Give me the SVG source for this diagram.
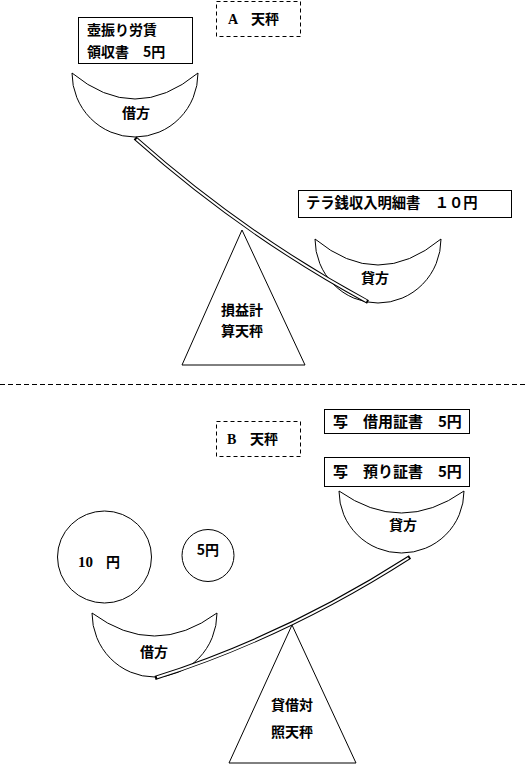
<svg xmlns="http://www.w3.org/2000/svg" width="529" height="768" viewBox="0 0 529 768">
<style>
.t{font-family:"Noto Sans CJK JP","Noto Sans CJK SC",sans-serif;font-weight:bold;fill:#000}
.s{font-family:"Liberation Serif","Noto Sans CJK JP",serif;font-weight:bold;fill:#000}
.box{fill:#fff;stroke:#000;stroke-width:1}
.dbox{fill:none;stroke:#000;stroke-width:1;stroke-dasharray:4,3}
.pan{fill:#fff;stroke:#000;stroke-width:1}
.tri{fill:#fff;stroke:#000;stroke-width:1}
.beamO{fill:none;stroke:#000;stroke-width:4}
.beamI{fill:none;stroke:#fff;stroke-width:2}
</style>
<rect width="529" height="768" fill="#fff"/>

<!-- Section A -->
<g id="labelA">
<rect class="dbox" x="216.5" y="1.5" width="84" height="35"/>
<text class="s" x="228" y="24" font-size="14">A</text>
<text class="t" x="251" y="24" font-size="14">天秤</text>
</g>
<g id="receiptA">
<rect class="box" x="78.5" y="17.5" width="114" height="46"/>
<text class="t" x="87" y="35" font-size="14">壺振り労賃</text>
<text class="t" x="87" y="57" font-size="14">領収書　5円</text>
</g>
<g id="triangleA">
<polygon class="tri" points="242,230 182,365 305,365"/>
<text class="t" x="242" y="315" font-size="14" text-anchor="middle">損益計</text>
<text class="t" x="242" y="336" font-size="14" text-anchor="middle">算天秤</text>
</g>
<g id="panA-debit">
<path class="pan" d="M72,73 Q135,125 198,73 A63,64 0 0 1 72,73 Z"/>
<text class="t" x="136" y="118" font-size="14" text-anchor="middle">借方</text>
</g>
<g id="panA-credit">
<path class="pan" d="M315,239 Q378,291 441,239 A63,64 0 0 1 315,239 Z"/>
<text class="t" x="375" y="283" font-size="14" text-anchor="middle">貸方</text>
</g>
<g id="receiptA2">
<rect class="box" x="298.5" y="190.5" width="213" height="27"/>
<text class="t" x="306" y="208" font-size="14.3">テラ銭収入明細書　１０円</text>
</g>

<!-- divider -->
<line x1="0" y1="384.5" x2="528" y2="384.5" stroke="#000" stroke-width="1" stroke-dasharray="5,3"/>

<!-- Section B -->
<g id="labelB">
<rect class="dbox" x="216.5" y="421.5" width="84" height="35"/>
<text class="s" x="227" y="444" font-size="14">B</text>
<text class="t" x="250" y="444" font-size="14">天秤</text>
</g>
<g id="copy1">
<rect class="box" x="324.5" y="409.5" width="145" height="24"/>
<text class="t" x="333" y="427" font-size="15">写　借用証書　5円</text>
</g>
<g id="copy2">
<rect class="box" x="324.5" y="457.5" width="145" height="29"/>
<text class="t" x="333" y="477" font-size="15">写　預り証書　5円</text>
</g>
<g id="coin10">
<ellipse class="box" cx="104.5" cy="557" rx="47" ry="46"/>
<text class="s" x="78" y="567" font-size="15">10</text>
<text class="t" x="106" y="567" font-size="14">円</text>
</g>
<g id="coin5">
<circle class="box" cx="208" cy="555.5" r="26"/>
<text class="t" x="208" y="555" font-size="14" text-anchor="middle">5円</text>
</g>
<g id="triangleB">
<polygon class="tri" points="292,625 229,763 356,763"/>
<text class="t" x="292" y="710" font-size="14" text-anchor="middle">貸借対</text>
<text class="t" x="292" y="737" font-size="14" text-anchor="middle">照天秤</text>
</g>
<g id="panB-credit">
<path class="pan" d="M339,491 Q401.5,535 464,491 A62.5,62 0 0 1 339,491 Z"/>
<text class="t" x="403" y="530" font-size="14" text-anchor="middle">貸方</text>
</g>
<g id="panB-debit">
<path class="pan" d="M92,613 Q154.5,659 217,613 A62.5,64 0 0 1 92,613 Z"/>
<text class="t" x="154" y="657" font-size="14" text-anchor="middle">借方</text>
</g>

<!-- connectors (beams) -->
<g id="connectors">
<path class="beamO" d="M135,138 Q243,234 368,302"/>
<path class="beamI" d="M136.5,139.3 Q243,234 366.5,301"/>
<path class="beamO" d="M155,678 Q285,637 410,557"/>
<path class="beamI" d="M157,677.3 Q285,637 408.5,558"/>
</g>
</svg>
